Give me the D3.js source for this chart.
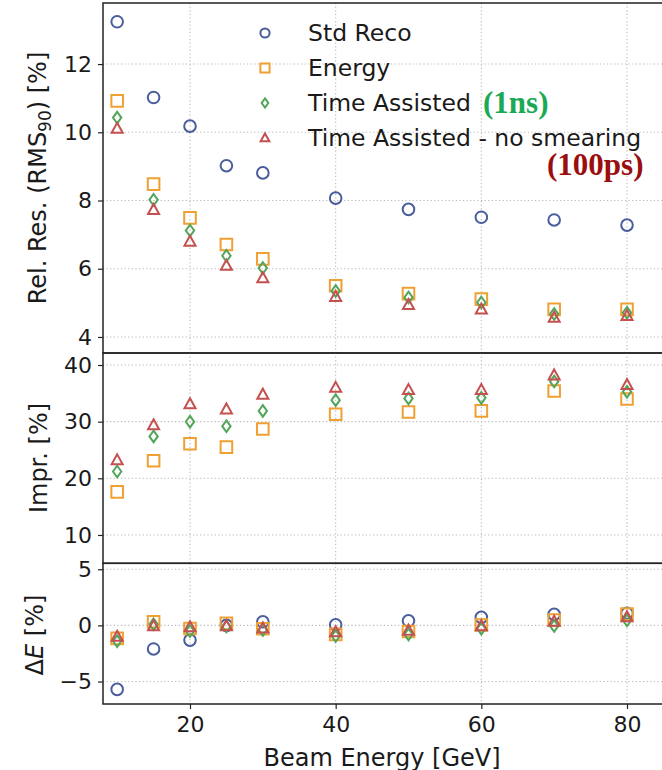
<!DOCTYPE html>
<html>
<head>
<meta charset="utf-8">
<script src="https://cdn.jsdelivr.net/npm/d3@7"></script>
<style>
  html, body { margin: 0; padding: 0; background: #fff; }
  svg { display: block; font-family: "DejaVu Sans", sans-serif; }
</style>
</head>
<body>
<svg id="chart" width="662" height="770"></svg>
<script>
// Beam energies (GeV)
const energies = [10, 15, 20, 25, 30, 40, 50, 60, 70, 80];

// Relative resolution RMS90 [%]
const resStd    = [13.24, 11.02, 10.18, 9.02, 8.81, 8.07, 7.74, 7.51, 7.43, 7.28];
const resEnergy = [10.92, 8.48, 7.49, 6.71, 6.29, 5.50, 5.27, 5.11, 4.81, 4.81];
const resTime   = [10.43, 8.02, 7.12, 6.38, 6.02, 5.35, 5.16, 5.01, 4.67, 4.71];
const resNoSm   = [10.11, 7.73, 6.80, 6.09, 5.73, 5.18, 4.94, 4.81, 4.57, 4.62];

// Improvement w.r.t. standard reconstruction [%]
const imprEnergy = [17.6, 23.1, 26.1, 25.5, 28.7, 31.3, 31.7, 31.9, 35.4, 34.0];
const imprTime   = [21.2, 27.4, 30.0, 29.2, 31.9, 33.8, 34.1, 34.2, 37.1, 35.3];
const imprNoSm   = [23.2, 29.4, 33.1, 32.2, 34.8, 36.0, 35.6, 35.6, 38.2, 36.5];

// Energy bias ΔE [%]
const dEStd    = [-5.70, -2.10, -1.31, 0.00, 0.32, 0.05, 0.41, 0.71, 0.98, 1.07];
const dEEnergy = [-1.16, 0.32, -0.27, 0.18, -0.30, -0.80, -0.55, 0.03, 0.47, 1.00];
const dETime   = [-1.40, 0.10, -0.50, -0.10, -0.40, -0.95, -0.80, -0.30, -0.05, 0.45];
const dENoSm   = [-1.00, -0.05, -0.15, -0.05, -0.25, -0.60, -0.45, -0.05, 0.35, 0.75];

// Tick values
const xTicks = [20, 40, 60, 80];
const resTicks = [4, 6, 8, 10, 12];
const imprTicks = [10, 20, 30, 40];
const dETicks = [-5, 0, 5];

const seriesNames = ["Std Reco", "Energy", "Time Assisted", "Time Assisted - no smearing"];
const colors = { std: "#4a5d9c", energy: "#f0a032", time: "#52a55a", nosm: "#c4504f" };

const svg = d3.select("#chart");
const left = 103, right = 671;

const x = d3.scaleLinear().domain([8, 86]).range([102.6, 670.7]);

const panels = [
  { top: 3, bottom: 353, domain: [3.53, 13.79], ticks: resTicks,
    series: [
      { v: resStd, c: colors.std, m: "circle" },
      { v: resEnergy, c: colors.energy, m: "square" },
      { v: resTime, c: colors.time, m: "diamond" },
      { v: resNoSm, c: colors.nosm, m: "triangle" } ] },
  { top: 353, bottom: 563.3, domain: [5.0, 42.12], ticks: imprTicks,
    series: [
      { v: imprEnergy, c: colors.energy, m: "square" },
      { v: imprTime, c: colors.time, m: "diamond" },
      { v: imprNoSm, c: colors.nosm, m: "triangle" } ] },
  { top: 563.3, bottom: 704, domain: [-7.0, 5.53], ticks: dETicks,
    series: [
      { v: dEStd, c: colors.std, m: "circle" },
      { v: dEEnergy, c: colors.energy, m: "square" },
      { v: dETime, c: colors.time, m: "diamond" },
      { v: dENoSm, c: colors.nosm, m: "triangle" } ] }
];

function markerPath(type, s) {
  // s: half-size of the marker
  switch (type) {
    case "circle":
      return `M${s},0A${s},${s} 0 1,1 ${-s},0A${s},${s} 0 1,1 ${s},0Z`;
    case "square":
      return `M${-s},${-s}H${s}V${s}H${-s}Z`;
    case "diamond":
      return `M0,${-s}L${s * 0.72},0L0,${s}L${-s * 0.72},0Z`;
    case "triangle":
      return `M0,${-s}L${s * 0.95},${s * 0.72}L${-s * 0.95},${s * 0.72}Z`;
  }
}

const fmt = d => d < 0 ? "\u2212" + Math.abs(d) : String(d);

panels.forEach(p => {
  const y = d3.scaleLinear().domain(p.domain).range([p.bottom, p.top]);
  const g = svg.append("g");

  // dotted grid
  g.selectAll(".gy").data(p.ticks).join("line")
    .attr("x1", left).attr("x2", right)
    .attr("y1", d => y(d)).attr("y2", d => y(d))
    .attr("stroke", "#b8b8b8").attr("stroke-width", 1.1)
    .attr("stroke-dasharray", "1.2,2.4");
  g.selectAll(".gx").data(xTicks).join("line")
    .attr("x1", d => x(d)).attr("x2", d => x(d))
    .attr("y1", p.top).attr("y2", p.bottom)
    .attr("stroke", "#b8b8b8").attr("stroke-width", 1.1)
    .attr("stroke-dasharray", "1.2,2.4");

  // y axis
  const ax = d3.axisLeft(y).tickValues(p.ticks).tickFormat(fmt).tickSize(5).tickPadding(6);
  const ga = svg.append("g").attr("transform", `translate(${left},0)`).call(ax);
  ga.select(".domain").remove();
  ga.selectAll(".tick line").attr("stroke", "#222").attr("stroke-width", 1.2);
  ga.selectAll(".tick text").attr("font-family", "DejaVu Sans").attr("font-size", 22).attr("fill", "#1a1a1a");

  // markers
  p.series.forEach(s => {
    g.selectAll(null).data(energies.map((e, i) => [e, s.v[i]])).join("path")
      .attr("transform", d => `translate(${x(d[0])},${y(d[1])})`)
      .attr("d", markerPath(s.m, 5.8))
      .attr("fill", "none").attr("stroke", s.c).attr("stroke-width", 2);
  });

  // frame
  svg.append("rect").attr("x", left).attr("y", p.top)
    .attr("width", right - left).attr("height", p.bottom - p.top)
    .attr("fill", "none").attr("stroke", "#222").attr("stroke-width", 1.5);
});

// x axis on the bottom panel
const xAxis = d3.axisBottom(x).tickValues(xTicks).tickSize(5).tickPadding(7);
const gx = svg.append("g").attr("transform", "translate(0,704)").call(xAxis);
gx.select(".domain").remove();
gx.selectAll(".tick line").attr("stroke", "#222").attr("stroke-width", 1.2);
gx.selectAll(".tick text").attr("font-family", "DejaVu Sans").attr("font-size", 22).attr("fill", "#1a1a1a");

// axis titles
svg.append("text").attr("x", 382).attr("y", 766).attr("text-anchor", "middle")
  .attr("font-size", 24).attr("fill", "#1a1a1a").text("Beam Energy [GeV]");

const t1 = svg.append("text").attr("transform", "translate(46,178) rotate(-90)")
  .attr("text-anchor", "middle").attr("font-size", 24).attr("fill", "#1a1a1a");
t1.append("tspan").text("Rel. Res. (RMS");
t1.append("tspan").attr("font-size", 17).attr("dy", 5).text("90");
t1.append("tspan").attr("dy", -5).text(") [%]");

svg.append("text").attr("transform", "translate(47,458) rotate(-90)")
  .attr("text-anchor", "middle").attr("font-size", 24).attr("fill", "#1a1a1a").text("Impr. [%]");

const t3 = svg.append("text").attr("transform", "translate(43,635) rotate(-90)")
  .attr("text-anchor", "middle").attr("font-size", 24).attr("fill", "#1a1a1a");
t3.append("tspan").text("\u0394");
t3.append("tspan").attr("font-style", "italic").text("E");
t3.append("tspan").text(" [%]");

// legend
const legendItems = [
  { name: seriesNames[0], c: colors.std, m: "circle" },
  { name: seriesNames[1], c: colors.energy, m: "square" },
  { name: seriesNames[2], c: colors.time, m: "diamond" },
  { name: seriesNames[3], c: colors.nosm, m: "triangle" }
];
const lg = svg.append("g");
legendItems.forEach((it, i) => {
  const cy = 33 + i * 35;
  lg.append("path").attr("transform", `translate(265,${cy})`)
    .attr("d", markerPath(it.m, 4.6)).attr("fill", "none")
    .attr("stroke", it.c).attr("stroke-width", 2);
  lg.append("text").attr("x", 308).attr("y", cy + 8).attr("font-size", 23.5)
    .attr("fill", "#1a1a1a").text(it.name);
});

// timing resolution annotations
svg.append("text").attr("x", 483).attr("y", 113)
  .attr("font-family", "Liberation Serif").attr("font-weight", "bold")
  .attr("font-size", 31).attr("fill", "#1aaa55").text("(1ns)");
svg.append("text").attr("x", 547).attr("y", 175)
  .attr("font-family", "Liberation Serif").attr("font-weight", "bold")
  .attr("font-size", 31).attr("fill", "#9a0e0e").text("(100ps)");
</script>
</body>
</html>
